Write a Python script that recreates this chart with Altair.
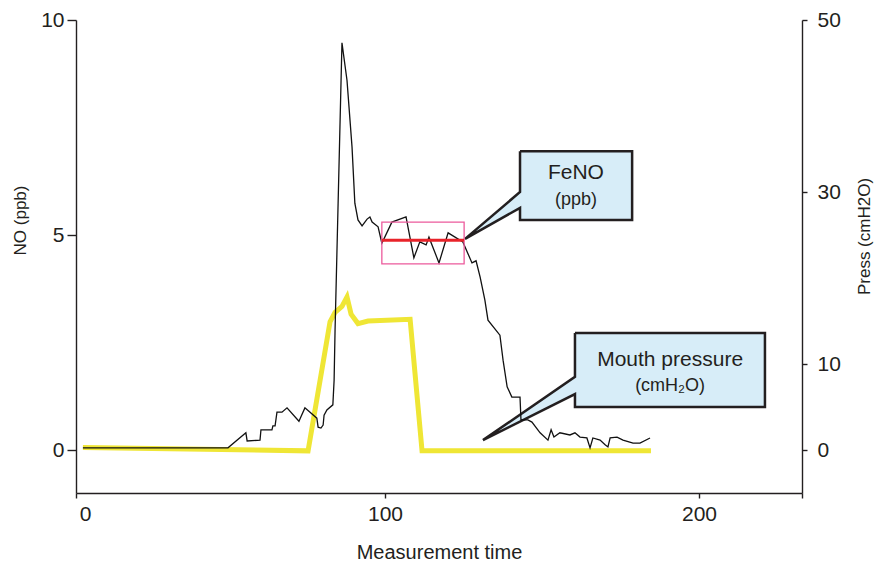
import altair as alt
import pandas as pd

# ---------------- data ----------------
# NO trace (ppb) vs measurement time
no_time = [3.8, 50.0, 55.7, 56.1, 60.2, 60.5, 64.0, 64.3, 65.0, 65.6, 67.2, 68.8,
           72.6, 73.2, 74.5, 78.3, 78.7, 79.6, 80.3, 80.6, 81.5, 83.4, 83.8, 84.1,
           86.3, 87.9, 89.5, 90.4, 91.4, 92.7, 94.3, 95.2, 95.9, 97.8, 99.0, 102.2,
           106.7, 109.2, 111.1, 113.1, 114.0, 117.2, 120.1, 124.8, 127.7, 129.0,
           130.3, 131.8, 132.8, 136.6, 137.6, 138.9, 140.4, 143.0, 143.3, 145.5,
           146.8, 149.4, 151.9, 152.9, 153.8, 155.7, 158.9, 160.5, 162.1, 164.3,
           165.3, 166.2, 168.5, 170.1, 171.0, 171.7, 173.9, 175.8, 179.0, 181.2, 184.4]
no_ppb = [0.05, 0.05, 0.40, 0.21, 0.23, 0.47, 0.47, 0.56, 0.56, 0.88, 0.88, 0.98,
          0.67, 0.77, 0.98, 0.74, 0.53, 0.51, 0.58, 0.81, 0.93, 1.05, 1.63, 2.79,
          9.47, 8.60, 7.05, 5.74, 5.35, 5.21, 5.37, 5.42, 5.30, 5.19, 4.81, 5.30,
          5.42, 4.47, 4.84, 4.77, 4.95, 4.35, 5.05, 4.84, 4.35, 4.40,
          4.02, 3.49, 3.02, 2.67, 2.09, 1.47, 1.23, 1.23, 0.70, 0.70,
          0.65, 0.40, 0.23, 0.47, 0.30, 0.40, 0.35, 0.40, 0.30, 0.28,
          0.05, 0.28, 0.23, 0.12, 0.07, 0.28, 0.30, 0.23, 0.16, 0.16, 0.28]

# Mouth pressure (cmH2O)
p_time = [3.8, 75.5, 82.5, 84.1, 86.3, 87.9, 89.2, 91.4, 94.6, 108.0, 111.8, 184.7]
p_val = [0.3, -0.1, 14.9, 16.0, 16.7, 17.8, 15.8, 14.7, 15.0, 15.2, -0.1, -0.1]

# FeNO plateau window and mean
feno_window = [99.0, 125.2]
feno_band = [4.33, 5.30]
feno_level = 4.88

# Callouts (time, ppb)
fe_x = [143.0, 178.7, 178.7, 143.0, 143.0, 125.5, 143.0, 143.0]
fe_y = [6.95, 6.95, 5.35, 5.35, 5.63, 4.91, 6.00, 6.95]
mp_x = [160.5, 221.0, 221.0, 160.5, 160.5, 131.2, 160.5, 160.5]
mp_y = [2.72, 2.72, 1.00, 1.00, 1.30, 0.23, 1.70, 2.72]

label_text = ["FeNO", "(ppb)", "Mouth pressure", "(cmH\u2082O)"]
label_t = [160.8, 160.8, 190.8, 190.8]
label_v = [6.44, 5.81, 2.09, 1.49]
label_fs = [21, 18, 21, 18]

x_ticks = [1.6, 4.5, 100, 200, 232.8]
y_left_ticks = [0, 5, 10]
y_right_ticks = [0, 10, 30, 50]

# ---------------- tables ----------------
no_df = pd.DataFrame({"t": no_time, "v": no_ppb})
p_df = pd.DataFrame({"t": p_time, "v": p_val})
poly_df = pd.DataFrame({
    "t": fe_x + mp_x,
    "v": fe_y + mp_y,
    "i": list(range(len(fe_x))) + list(range(len(mp_x))),
    "shape": ["fe"] * len(fe_x) + ["mp"] * len(mp_x),
})
lab_df = pd.DataFrame({"t": label_t, "v": label_v, "txt": label_text, "fs": label_fs})
band_df = pd.DataFrame({"t": [feno_window[0]], "t2": [feno_window[1]],
                        "v": [feno_band[0]], "v2": [feno_band[1]]})
level_df = pd.DataFrame({"t": feno_window, "v": [feno_level, feno_level]})

INK = "#231f20"
FONT = "Liberation Sans"

xscale = alt.Scale(domain=[1.6, 232.8], nice=False, zero=False)
yl_scale = alt.Scale(domain=[-1, 10], nice=False, zero=False)
yr_scale = alt.Scale(domain=[-5, 50], nice=False, zero=False)

x_axis = alt.Axis(
    values=x_ticks,
    labelExpr="datum.value > 3 && datum.value < 50 ? '0' : (datum.value > 50 && datum.value < 230 ? datum.label : '')",
    labelOverlap=False,
    tickOpacity={"condition": {"test": "datum.value > 3 && datum.value < 50", "value": 0}, "value": 1},
    title="Measurement time",
    titleY=59,
    titleBaseline="middle",
    tickSize=5,
    labelPadding=5,
    grid=False,
)

yl_axis = alt.Axis(values=y_left_ticks, title="NO (ppb)", grid=False, tickSize=9,
                   labelPadding=3, titleX=-56, titleY=200, titleBaseline="middle",
                   titleAngle=270)
yr_axis = alt.Axis(values=y_right_ticks, title="Press (cmH2O)", orient="right", grid=False,
                   tickSize=5, labelPadding=10, titleX=62, titleY=216,
                   titleBaseline="middle", titleAngle=270)

X = alt.X("t:Q", scale=xscale, axis=x_axis)
YL = alt.Y("v:Q", scale=yl_scale, axis=yl_axis)

pressure = alt.Chart(p_df).mark_line(color="#efe635", strokeWidth=5, strokeJoin="miter").encode(
    x=X,
    y=alt.Y("v:Q", scale=yr_scale, axis=yr_axis),
)

callouts = alt.Chart(poly_df).mark_line(
    fill="#d7edf8", stroke=INK, strokeWidth=2.5, strokeJoin="miter", strokeMiterLimit=4
).encode(x=X, y=YL, order="i:Q", detail="shape:N")

texts = alt.Chart(lab_df).mark_text(font=FONT, color=INK, baseline="middle", align="center").encode(
    x=X, y=YL, text="txt:N", size=alt.Size("fs:Q", scale=None, legend=None)
)

no_line = alt.Chart(no_df).mark_line(color="#111111", strokeWidth=1.3).encode(x=X, y=YL)

band = alt.Chart(band_df).mark_rect(fill=None, stroke="#ec5a9c", strokeWidth=1.3).encode(
    x=X, x2="t2:Q", y=YL, y2="v2:Q"
)

level = alt.Chart(level_df).mark_line(color="#e8232a", strokeWidth=3).encode(x=X, y=YL)

left_group = alt.layer(callouts, texts, no_line, band, level)

chart = alt.layer(pressure, left_group).resolve_scale(y="independent").properties(
    width=726, height=473,
    padding={"left": 68, "top": 12, "right": 73, "bottom": 70},
    autosize=alt.AutoSizeParams(type="none"),
).configure_view(stroke=None).configure_axis(
    domainColor=INK, domainWidth=1.4, tickColor=INK, tickWidth=1.4,
    labelFont=FONT, labelFontSize=21, labelColor=INK,
    titleFont=FONT, titleFontSize=17, titleColor=INK, titleFontWeight="normal",
).configure_axisBottom(titleFontSize=20)

chart.save("out.html", embed_options={"renderer": "svg", "actions": False})
